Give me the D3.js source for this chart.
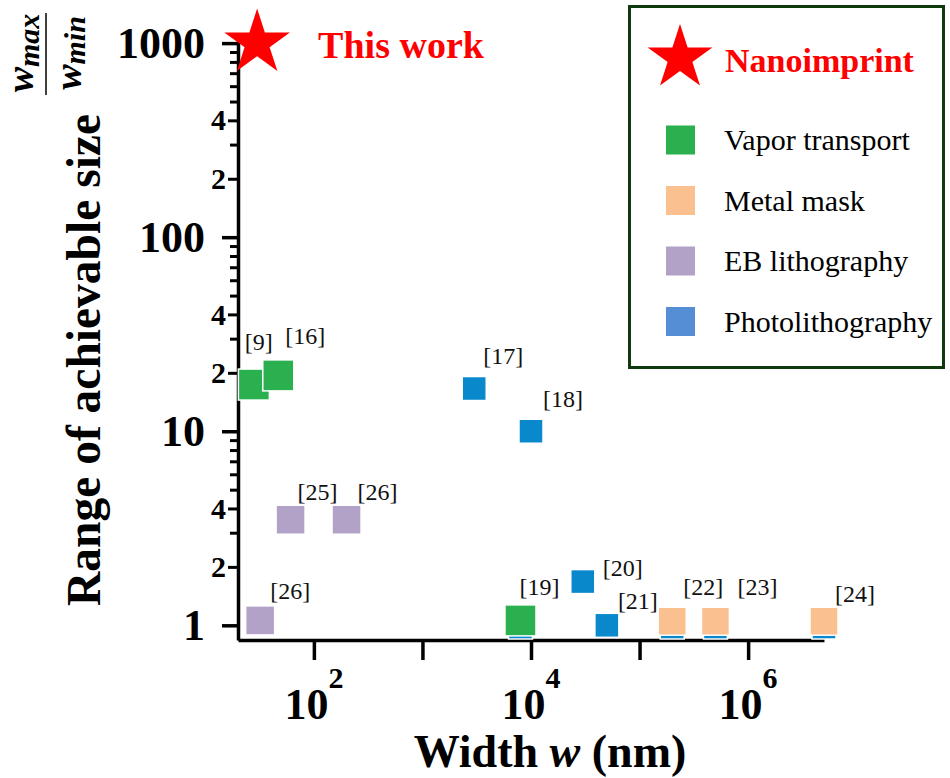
<!DOCTYPE html>
<html>
<head>
<meta charset="utf-8">
<script src="https://cdn.jsdelivr.net/npm/d3@7"></script>
<style>
  body { margin: 0; background: #fff; }
  svg { display: block; }
  svg text { font-family: "Liberation Serif", "Times New Roman", serif; }
</style>
</head>
<body>
<script>
'use strict';

// legend entries
let methods = ["Nanoimprint", "Vapor transport", "Metal mask", "EB lithography", "Photolithography"];

// one entry per square, in drawing order (the photolithography points hidden under others go first)
let pointMethod = [
  "Photolithography", "Photolithography", "Photolithography", "Photolithography",
  "Vapor transport", "Vapor transport",
  "Photolithography", "Photolithography",
  "EB lithography", "EB lithography", "EB lithography",
  "Vapor transport",
  "Photolithography", "Photolithography",
  "Metal mask", "Metal mask", "Metal mask"
];
let widthNm = [8000, 2e5, 5e5, 5e6, 28, 47, 3000, 10000, 61, 200, 32, 8000, 30000, 50000, 2e5, 5e5, 5e6];
let sizeRange = [0.98, 0.98, 0.98, 0.98, 17.4, 19.4, 16.6, 10, 3.5, 3.5, 1.06, 1.06, 1.68, 1.0, 1.05, 1.05, 1.05];
let refLabel = ["", "", "", "", "[9]", "[16]", "[17]", "[18]", "[25]", "[26]", "[26]", "[19]", "[20]", "[21]", "[22]", "[23]", "[24]"];

// this work (nanoimprint)
let thisWorkWidth = 30;
let thisWorkRange = 1000;
let thisWorkLabel = "This work";

// ticks
let xTicks = [1e2, 1e3, 1e4, 1e5, 1e6];
let xLabelTicks = [1e2, 1e4, 1e6];
let xTickExponents = ["2", "4", "6"];
let yMajorTicks = [1, 10, 100, 1000];
let yMinorLabelled = [2, 4, 20, 40, 200, 400];
let yMinorTicks = [3, 5, 6, 7, 8, 9, 30, 50, 60, 70, 80, 90, 300, 500, 600, 700, 800, 900];

// styles
let colors = {
  "Nanoimprint": "#ff0000",
  "Vapor transport": "#2bb050",
  "Metal mask": "#fac090",
  "EB lithography": "#b3a2c7",
  "Photolithography": "#0a88cc"
};
let legendColors = Object.assign({}, colors, { "Photolithography": "#558ed5" });
let squareSize = {
  "Vapor transport": 31,
  "Metal mask": 28,
  "EB lithography": 29,
  "Photolithography": 24
};
// where each reference label sits relative to its square centre (baseline)
let labelOffsets = [
  null, null, null, null,
  [-9, -35], [7, -31], [9, -25], [12, -24],
  [7, -20], [11, -20], [10, -21], [-1, -25],
  [20, -6], [11, -16], [11, -26], [22, -26], [11, -19]
];

let width = 950, height = 778;

let svg = d3.select("body").append("svg")
  .attr("width", width)
  .attr("height", height);

// scales
let x = d3.scaleLog().domain([20, 5e6]).range([238, 824]);
let y = d3.scaleLog().domain([0.84, 1050]).range([640, 39]);

// sets the tick text look after d3 has drawn the axis
function styleTicks(g, size) {
  g.selectAll("text")
    .attr("font-size", size)
    .attr("font-weight", "bold")
    .attr("fill", "#000");
}

// x axis
svg.append("g")
  .attr("transform", "translate(0," + y.range()[0] + ")")
  .call(d3.axisBottom(x).tickValues(xTicks).tickSize(20).tickSizeOuter(0).tickFormat(""))
  .call(g => g.selectAll("path, line").attr("stroke", "#000").attr("stroke-width", 3.5));

xLabelTicks.forEach((v, i) => {
  let t = svg.append("text")
    .attr("x", x(v))
    .attr("y", 719)
    .attr("text-anchor", "middle")
    .attr("font-size", 44)
    .attr("font-weight", "bold");
  t.append("tspan").text("10");
  t.append("tspan").attr("dy", -31).attr("font-size", 30).text(xTickExponents[i]);
});

// y axis: plain minor ticks, then labelled minors, then decades
let yAxisX = x.range()[0];
svg.append("g")
  .attr("transform", "translate(" + yAxisX + ",0)")
  .call(d3.axisLeft(y).tickValues(yMinorTicks).tickSize(8).tickFormat(""))
  .call(g => g.select(".domain").remove())
  .call(g => g.selectAll("line").attr("stroke", "#000").attr("stroke-width", 3));

svg.append("g")
  .attr("transform", "translate(" + yAxisX + ",0)")
  .call(d3.axisLeft(y).tickValues(yMinorLabelled).tickSize(10).tickPadding(2)
    .tickFormat(d => String(d)[0]))
  .call(g => g.select(".domain").remove())
  .call(g => g.selectAll("line").attr("stroke", "#000").attr("stroke-width", 3))
  .call(g => styleTicks(g, 30));

svg.append("g")
  .attr("transform", "translate(" + yAxisX + ",0)")
  .call(d3.axisLeft(y).tickValues(yMajorTicks).tickSize(16).tickSizeOuter(0).tickPadding(17)
    .tickFormat(d3.format("d")))
  .call(g => g.selectAll("path, line").attr("stroke", "#000").attr("stroke-width", 3.5))
  .call(g => styleTicks(g, 44));

// axis titles
let xTitle = svg.append("text")
  .attr("x", 550)
  .attr("y", 767)
  .attr("text-anchor", "middle")
  .attr("font-size", 46)
  .attr("font-weight", "bold");
xTitle.append("tspan").text("Width ");
xTitle.append("tspan").attr("font-style", "italic").text("w");
xTitle.append("tspan").text(" (nm)");

svg.append("text")
  .attr("transform", "translate(100,360) rotate(-90)")
  .attr("text-anchor", "middle")
  .attr("font-size", 47.5)
  .attr("font-weight", "bold")
  .text("Range of achievable size");

// w_max / w_min fraction above the y title
let frac = svg.append("g")
  .attr("transform", "translate(45,54) rotate(-90)")
  .attr("font-weight", "bold")
  .attr("font-style", "italic");
let num = frac.append("text").attr("x", 1).attr("y", -12).attr("text-anchor", "middle").attr("font-size", 38);
num.append("tspan").text("w");
num.append("tspan").attr("dy", 6).attr("font-size", 30).text("max");
let den = frac.append("text").attr("x", 1).attr("y", 36).attr("text-anchor", "middle").attr("font-size", 38);
den.append("tspan").text("w");
den.append("tspan").attr("dy", 4).attr("font-size", 30).text("min");
frac.append("line")
  .attr("x1", -41).attr("x2", 41)
  .attr("y1", 1).attr("y2", 1)
  .attr("stroke", "#000")
  .attr("stroke-width", 1.5);

// squares
svg.append("g")
  .selectAll("rect")
  .data(widthNm.map((w, i) => ({ w: w, r: sizeRange[i], m: pointMethod[i] })))
  .enter()
  .append("rect")
  .attr("x", d => x(d.w) - squareSize[d.m] / 2)
  .attr("y", d => y(d.r) - squareSize[d.m] / 2)
  .attr("width", d => squareSize[d.m])
  .attr("height", d => squareSize[d.m])
  .attr("fill", d => colors[d.m])
  .attr("stroke", "#fff")
  .attr("stroke-width", 1.5);

// reference labels
svg.append("g")
  .selectAll("text")
  .data(refLabel.map((t, i) => ({ t: t, i: i })).filter(d => d.t !== ""))
  .enter()
  .append("text")
  .attr("x", d => x(widthNm[d.i]) + labelOffsets[d.i][0])
  .attr("y", d => y(sizeRange[d.i]) + labelOffsets[d.i][1])
  .attr("font-size", 24)
  .attr("fill", "#111")
  .text(d => d.t);

// this work star
let star = d3.symbol().type(d3.symbolStar).size(1336);
svg.append("path")
  .attr("d", star())
  .attr("transform", "translate(" + x(thisWorkWidth) + "," + y(thisWorkRange) + ")")
  .attr("fill", colors["Nanoimprint"]);

svg.append("text")
  .attr("x", x(thisWorkWidth) + 61)
  .attr("y", y(thisWorkRange) + 15)
  .attr("font-size", 38)
  .attr("font-weight", "bold")
  .attr("fill", colors["Nanoimprint"])
  .text(thisWorkLabel);

// legend
let legend = svg.append("g");
legend.append("rect")
  .attr("x", 629.5)
  .attr("y", 6.5)
  .attr("width", 314)
  .attr("height", 361)
  .attr("fill", "#fff")
  .attr("stroke", "#0e3a0e")
  .attr("stroke-width", 3);

legend.append("path")
  .attr("d", d3.symbol().type(d3.symbolStar).size(1300)())
  .attr("transform", "translate(680,58)")
  .attr("fill", legendColors["Nanoimprint"]);
legend.append("text")
  .attr("x", 725)
  .attr("y", 72)
  .attr("font-size", 34)
  .attr("font-weight", "bold")
  .attr("fill", legendColors["Nanoimprint"])
  .text(methods[0]);

methods.slice(1).forEach((m, i) => {
  let cy = 140 + i * 60.5;
  legend.append("rect")
    .attr("x", 666)
    .attr("y", cy - 14.5)
    .attr("width", 29)
    .attr("height", 29)
    .attr("fill", legendColors[m]);
  legend.append("text")
    .attr("x", 724)
    .attr("y", cy + 10)
    .attr("font-size", 30)
    .attr("fill", "#000")
    .text(m);
});
</script>
</body>
</html>
